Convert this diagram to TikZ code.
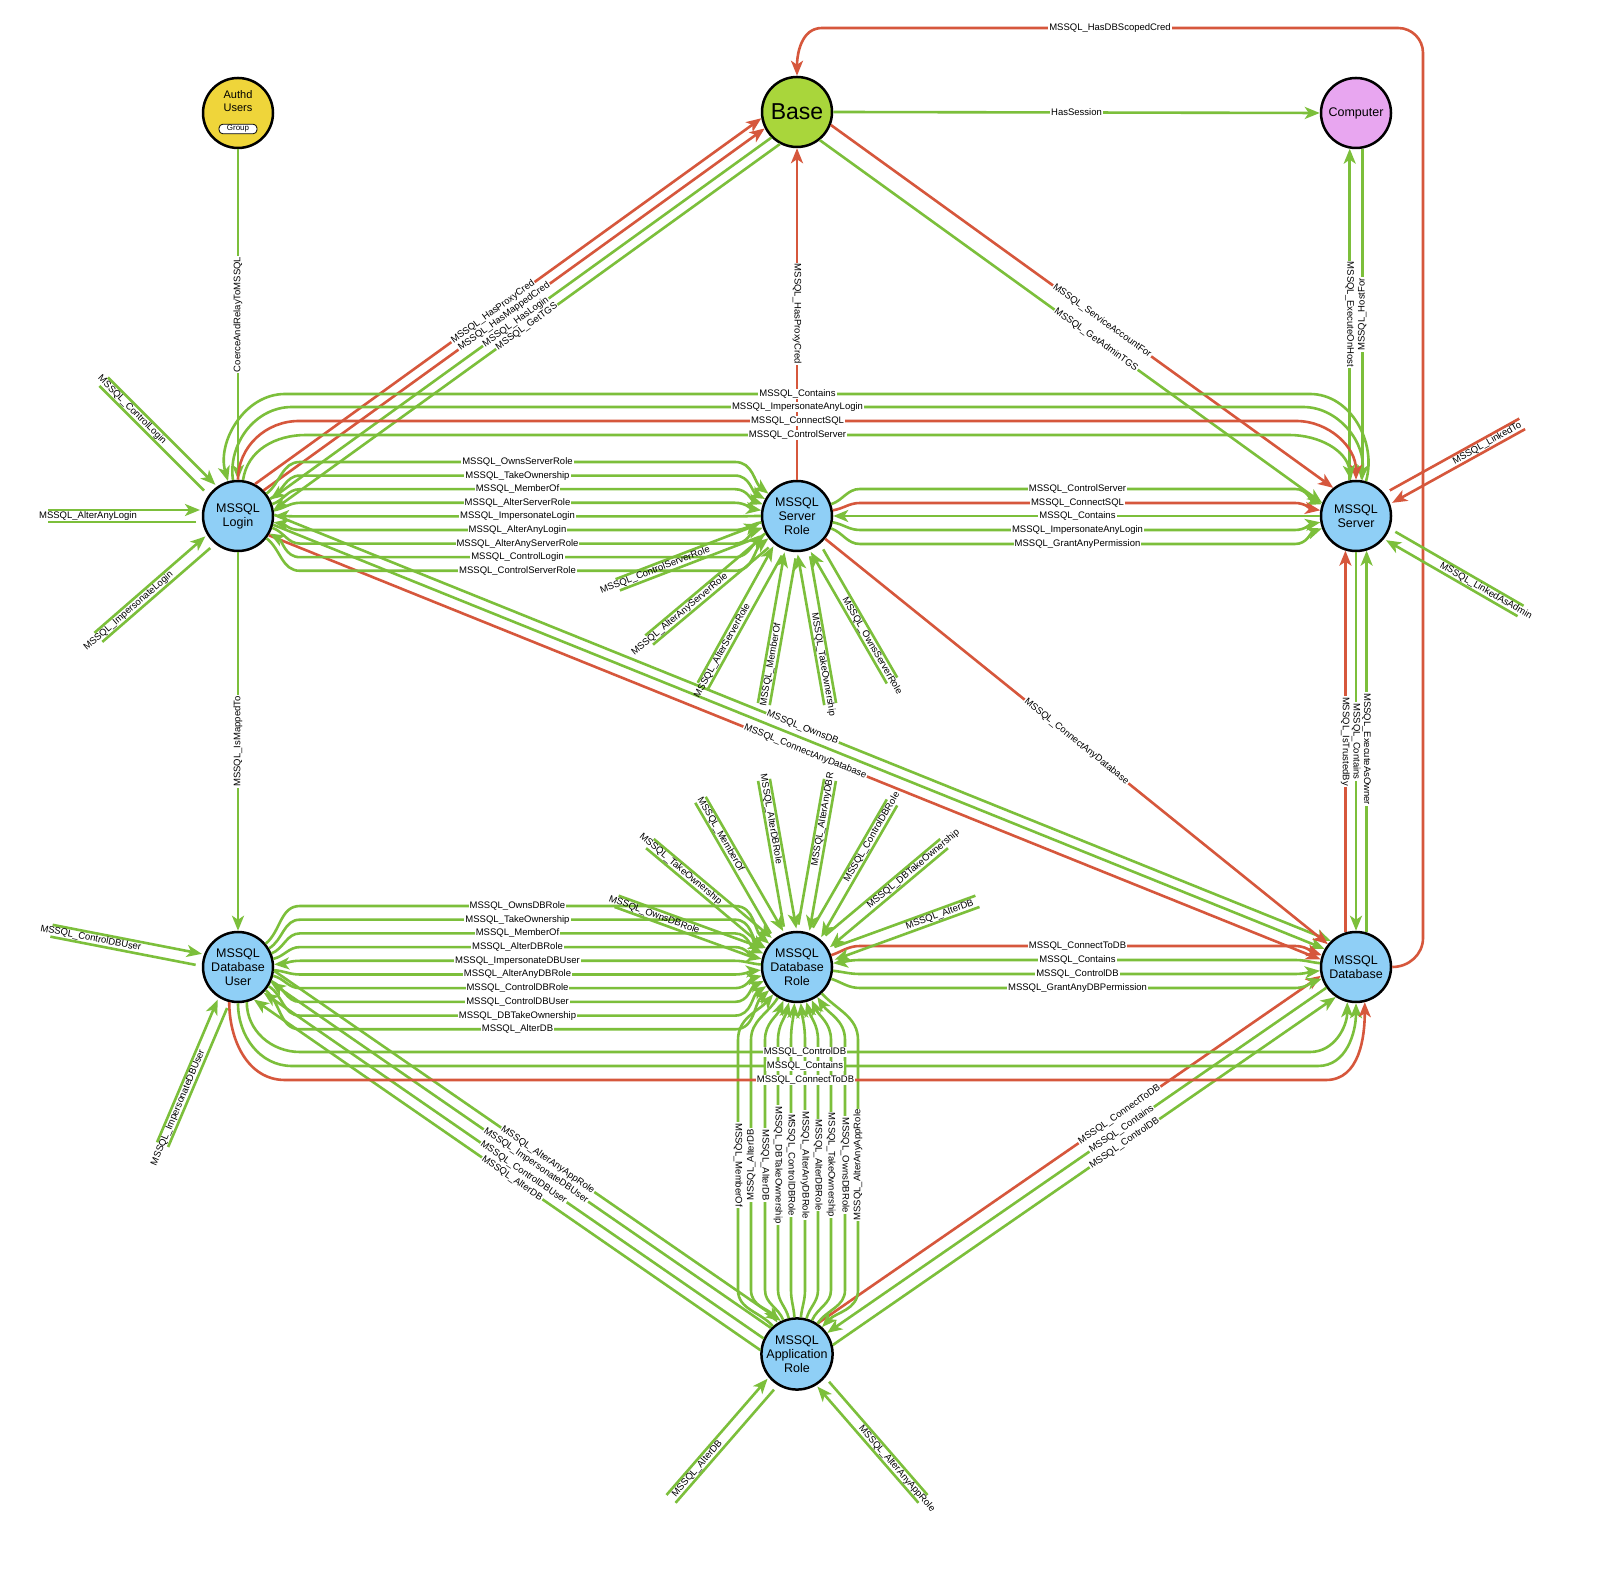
\documentclass[tikz,border=0pt]{standalone}
\usepackage{fontspec}
\setmainfont{Liberation Sans}
\usetikzlibrary{arrows.meta,calc}
\definecolor{grn}{HTML}{7CBF3B}
\definecolor{rd}{HTML}{D6573C}
\definecolor{nblue}{HTML}{8FCFF6}
\definecolor{yel}{HTML}{EFD53A}
\definecolor{bgrn}{HTML}{A9D63B}
\definecolor{pnk}{HTML}{E8A6F0}
\tikzset{
 g/.style={draw=grn,line width=2.6pt},
 r/.style={draw=rd,line width=2.6pt},
 ar/.style={-{Stealth[length=15pt,width=12pt,inset=4pt]}},
 ra/.style={{Stealth[length=15pt,width=12pt,inset=4pt]}-},
 lb/.style={font=\fontsize{9.5}{10}\selectfont,fill=white,inner sep=1pt},
 ls/.style={font=\fontsize{9.5}{10}\selectfont,inner sep=1pt},
 circ/.style={circle,draw=black,line width=2.5pt,minimum size=70pt,inner sep=0pt,align=center,font=\fontsize{12.5}{14}\selectfont,fill=nblue},
}
\newcommand\mybus[9]{\draw[#1] (#2.#3) to[out=#3,in=180] (#7,#6) -- node[lb]{#9} (#8,#6) to[out=0,in=#5] (#4.#5);}
\newcommand\myvbus[6]{\draw[#1] (app.#3) to[out=#3,in=270] (#2,293) -- node[lb,rotate=#6]{#5} (#2,543) to[out=90,in=#4] (dbr.#4);}
\newcommand\mystub[7]{%
 \draw[#4] ($(#1)+(#2:42)+(#2+90:6)$) -- ($(#1)+(#2:#3+40)+(#2+90:6)$);
 \draw[#4,ar] ($(#1)+(#2:#3+40)+(#2-90:6)$) -- ($(#1)+(#2:38)+(#2-90:6)$);
 \node[ls,rotate=#6] (#7) at ($(#1)+(#2:#3)$) {#5};}
\begin{document}
\begin{tikzpicture}[x=1pt,y=1pt]
\useasboundingbox[fill=white] (0,0) rectangle (1600,1583);
% nodes
\node[circ,fill=yel] (authd) at (238,1470) {};
\node[font=\fontsize{11}{12.5}\selectfont,align=center] (authdt) at (238,1482) {Authd\\Users};
\node[draw=black,fill=white,rounded corners=4pt,line width=0.8pt,inner sep=1.2pt,minimum width=38pt,font=\fontsize{8}{9}\selectfont] (grp) at (238,1454) {Group};
\node[circ,fill=bgrn,font=\fontsize{23}{26}\selectfont] (base) at (797,1471) {Base};
\node[circ,fill=pnk] (comp) at (1356,1470) {Computer};
\node[circ] (login) at (238,1067) {MSSQL\\Login};
\node[circ] (sr) at (797,1067) {MSSQL\\Server\\Role};
\node[circ] (srv) at (1356,1067) {MSSQL\\Server};
\node[circ] (dbu) at (238,616) {MSSQL\\Database\\User};
\node[circ] (dbr) at (797,616) {MSSQL\\Database\\Role};
\node[circ] (db) at (1356,616) {MSSQL\\Database};
\node[circ] (app) at (797,229) {MSSQL\\Application\\Role};

% simple edges
\draw[g,ar] (authd.270) -- node[lb,rotate=90]{CoerceAndRelayToMSSQL} (login.90);
\draw[g,ar] (base.0) -- node[lb]{HasSession} (comp.180);
\draw[r,ar] (db.0) to[out=0,in=270] (1423,645) -- (1423,1530) to[out=90,in=0] (1398,1555) -- node[lb]{MSSQL\_HasDBScopedCred} (822,1555) to[out=180,in=90] (base.90);
\draw[r,ar] (login.62) -- node[lb,sloped,pos=.47]{MSSQL\_HasProxyCred} (base.190);
\draw[r,ar] (login.45) -- node[lb,sloped,pos=.48]{MSSQL\_HasMappedCred} (base.207);
\draw[g,ra] (login.27) -- node[lb,sloped,pos=.49]{MSSQL\_HasLogin} (base.225);
\draw[g,ra] (login.10) -- node[lb,sloped,pos=.50]{MSSQL\_GetTGS} (base.242);
\draw[r,ar] (sr.90) -- node[lb,rotate=-90]{MSSQL\_HasProxyCred} (base.270);
\draw[r,ar] (base.-21) -- node[lb,sloped,pos=.54]{MSSQL\_ServiceAccountFor} (srv.129);
\draw[g,ar] (base.-51) -- node[lb,sloped,pos=.55]{MSSQL\_GetAdminTGS} (srv.159);
\draw[g,ar] (srv.100) -- node[lb,rotate=-90]{MSSQL\_ExecuteOnHost} (comp.260);
\draw[g,ar] (comp.280) -- node[lb,rotate=90]{MSSQL\_HostFor} (srv.80);
\draw[r,ar] (db.107) -- node[lb,rotate=-90]{MSSQL\_IsTrustedBy} (srv.253);
\draw[g,ar] (srv.270) -- node[lb,rotate=-90]{MSSQL\_Contains} (db.90);
\draw[g,ar] (db.73) -- node[lb,rotate=-90,pos=.48]{MSSQL\_ExecuteAsOwner} (srv.287);
\draw[g,ar] (login.270) -- node[lb,rotate=90]{MSSQL\_IsMappedTo} (dbu.90);
\draw[g,ar] (login.2) -- node[lb,sloped]{MSSQL\_OwnsDB} (db.134);
\draw[g,ar] (login.-14) -- (db.150);
\draw[r,ar] (login.-32) -- node[lb,sloped,pos=.51]{MSSQL\_ConnectAnyDatabase} (db.168);
\draw[r,ar] (sr.-39) -- node[lb,sloped]{MSSQL\_ConnectAnyDatabase} (db.141);
\draw[g,ar] (dbu.-6) -- node[lb,sloped,pos=.54]{MSSQL\_AlterAnyAppRole} (app.116);
\draw[g,ra] (dbu.-25) -- node[lb,sloped,pos=.53]{MSSQL\_ImpersonateDBUser} (app.135);
\draw[g,ra] (dbu.-45) -- node[lb,sloped,pos=.52]{MSSQL\_ControlDBUser} (app.155);
\draw[g,ra] (dbu.-64) -- node[lb,sloped,pos=.51]{MSSQL\_AlterDB} (app.174);
\draw[r,ar] (app.56) -- node[lb,sloped,pos=.60]{MSSQL\_ConnectToDB} (db.194);
\draw[g,ra] (app.35) -- node[lb,sloped,pos=.59]{MSSQL\_Contains} (db.215);
\draw[g,ar] (app.14) -- node[lb,sloped,pos=.58]{MSSQL\_ControlDB} (db.236);

% Login - Server top buses
\mybus{g,ra}{login}{106}{srv}{74}{1189}{285}{1310}{MSSQL\_Contains}
\mybus{g,ar}{login}{98}{srv}{82}{1176}{292}{1303}{MSSQL\_ImpersonateAnyLogin}
\mybus{r,ar}{login}{90}{srv}{90}{1162}{299}{1296}{MSSQL\_ConnectSQL}
\mybus{g,ar}{login}{82}{srv}{98}{1148}{306}{1289}{MSSQL\_ControlServer}
% Login - SR
\mybus{g,ar}{login}{38}{sr}{142}{1121}{300}{735}{MSSQL\_OwnsServerRole}
\mybus{g,ar}{login}{28}{sr}{152}{1107.4}{300}{735}{MSSQL\_TakeOwnership}
\mybus{g,ar}{login}{19}{sr}{161}{1093.8}{300}{735}{MSSQL\_MemberOf}
\mybus{g,ar}{login}{9}{sr}{171}{1080.2}{300}{735}{MSSQL\_AlterServerRole}
\mybus{g,ra}{login}{0}{sr}{180}{1066.6}{300}{735}{MSSQL\_ImpersonateLogin}
\mybus{g,ra}{login}{-10}{sr}{190}{1053}{300}{735}{MSSQL\_AlterAnyLogin}
\mybus{g,ar}{login}{-19}{sr}{199}{1039.4}{300}{735}{MSSQL\_AlterAnyServerRole}
\mybus{g,ra}{login}{-29}{sr}{209}{1025.8}{300}{735}{MSSQL\_ControlLogin}
\mybus{g,ar}{login}{-38}{sr}{218}{1012.2}{300}{735}{MSSQL\_ControlServerRole}
% SR - Server
\mybus{g,ar}{sr}{19}{srv}{161}{1094}{860}{1295}{MSSQL\_ControlServer}
\mybus{r,ar}{sr}{9}{srv}{171}{1080}{860}{1295}{MSSQL\_ConnectSQL}
\mybus{g,ra}{sr}{0}{srv}{180}{1067}{860}{1295}{MSSQL\_Contains}
\mybus{g,ar}{sr}{-10}{srv}{190}{1053}{860}{1295}{MSSQL\_ImpersonateAnyLogin}
\mybus{g,ar}{sr}{-20}{srv}{200}{1039}{860}{1295}{MSSQL\_GrantAnyPermission}
% DBU - DBR
\mybus{g,ar}{dbu}{40}{dbr}{140}{677}{300}{735}{MSSQL\_OwnsDBRole}
\mybus{g,ar}{dbu}{31}{dbr}{149}{663.3}{300}{735}{MSSQL\_TakeOwnership}
\mybus{g,ar}{dbu}{22}{dbr}{158}{649.6}{300}{735}{MSSQL\_MemberOf}
\mybus{g,ar}{dbu}{13}{dbr}{167}{635.9}{300}{735}{MSSQL\_AlterDBRole}
\mybus{g,ra}{dbu}{4}{dbr}{176}{622.2}{300}{735}{MSSQL\_ImpersonateDBUser}
\mybus{g,ar}{dbu}{-5}{dbr}{185}{608.5}{300}{735}{MSSQL\_AlterAnyDBRole}
\mybus{g,ar}{dbu}{-14}{dbr}{194}{594.8}{300}{735}{MSSQL\_ControlDBRole}
\mybus{g,ar}{dbu}{-23}{dbr}{203}{581.1}{300}{735}{MSSQL\_ControlDBUser}
\mybus{g,ar}{dbu}{-32}{dbr}{212}{567.4}{300}{735}{MSSQL\_DBTakeOwnership}
\mybus{g,ar}{dbu}{-40}{dbr}{220}{553.7}{300}{735}{MSSQL\_AlterDB}
% DBR - DB
\mybus{r,ar}{dbr}{19}{db}{161}{637}{860}{1295}{MSSQL\_ConnectToDB}
\mybus{g,ra}{dbr}{6}{db}{174}{623}{860}{1295}{MSSQL\_Contains}
\mybus{g,ar}{dbr}{-6}{db}{186}{609}{860}{1295}{MSSQL\_ControlDB}
\mybus{g,ar}{dbr}{-19}{db}{199}{595}{860}{1295}{MSSQL\_GrantAnyDBPermission}
% DBR - App verticals
\myvbus{g,ar}{738}{131}{229}{MSSQL\_MemberOf}{-90}
\myvbus{g,ra}{751}{122}{238}{MSSQL\_AlterDB}{90}
\myvbus{g,ar}{765}{112}{248}{MSSQL\_AlterDB}{-90}
\myvbus{g,ar}{778}{103}{257}{MSSQL\_DBTakeOwnership}{-90}
\myvbus{g,ar}{791}{94}{266}{MSSQL\_ControlDBRole}{-90}
\myvbus{g,ar}{805}{84}{276}{MSSQL\_AlterAnyDBRole}{-90}
\myvbus{g,ar}{818}{75}{285}{MSSQL\_AlterDBRole}{-90}
\myvbus{g,ar}{831}{66}{294}{MSSQL\_TakeOwnership}{-90}
\myvbus{g,ar}{845}{56}{304}{MSSQL\_OwnsDBRole}{-90}
\myvbus{g,ra}{858}{47}{313}{MSSQL\_AlterAnyAppRole}{90}
% DBU - DB bottom buses
\draw[g,ar] (dbu.284) to[out=270,in=180] (300,531) -- node[lb]{MSSQL\_ControlDB} (1310,531) to[out=0,in=270] (db.256);
\draw[g,ar] (dbu.270) to[out=270,in=180] (292,517) -- node[lb]{MSSQL\_Contains} (1318,517) to[out=0,in=270] (db.270);
\draw[r,ar] (dbu.256) to[out=270,in=180] (285,503) -- node[lb]{MSSQL\_ConnectToDB} (1326,503) to[out=0,in=270] (db.284);

% stubs (self edges)
\mystub{login}{135}{150}{g}{MSSQL\_ControlLogin}{-45}{s1}
\mystub{login}{180}{150}{g}{MSSQL\_AlterAnyLogin}{0}{s2}
\mystub{login}{221}{145}{g}{MSSQL\_ImpersonateLogin}{41}{s3}
\mystub{sr}{201}{152}{g}{MSSQL\_ControlServerRole}{21}{s4}
\mystub{sr}{220}{153}{g}{MSSQL\_AlterAnyServerRole}{40}{s5}
\mystub{sr}{241}{154}{g}{MSSQL\_AlterServerRole}{61}{s6}
\mystub{sr}{260}{151}{g}{MSSQL\_MemberOf}{80}{s7}
\mystub{sr}{280}{151}{g}{MSSQL\_TakeOwnership}{-80}{s8}
\mystub{sr}{300}{150}{g}{MSSQL\_OwnsServerRole}{-60}{s9}
\mystub{srv}{29}{150}{r}{MSSQL\_LinkedTo}{29}{s10}
\mystub{srv}{-30}{150}{g}{MSSQL\_LinkedAsAdmin}{-30}{s11}
\mystub{dbu}{169}{150}{g}{MSSQL\_ControlDBUser}{-11}{s12}
\mystub{dbu}{247}{153}{g}{MSSQL\_ImpersonateDBUser}{67}{s13}
\mystub{dbr}{160}{152}{g}{MSSQL\_OwnsDBRole}{-20}{s14}
\mystub{dbr}{140}{152}{g}{MSSQL\_TakeOwnership}{-40}{s15}
\mystub{dbr}{120}{153}{g}{MSSQL\_MemberOf}{-60}{s16}
\mystub{dbr}{100}{150}{g}{MSSQL\_AlterDBRole}{-80}{s17}
\mystub{dbr}{80}{150}{g}{MSSQL\_AlterAnyDBR}{80}{s18}
\mystub{dbr}{60}{150}{g}{MSSQL\_ControlDBRole}{60}{s19}
\mystub{dbr}{40}{152}{g}{MSSQL\_DBTakeOwnership}{40}{s20}
\mystub{dbr}{20}{152}{g}{MSSQL\_AlterDB}{20}{s21}
\mystub{app}{229}{152}{g}{MSSQL\_AlterDB}{49}{s22}
\mystub{app}{311}{152}{g}{MSSQL\_AlterAnyAppRole}{-49}{s23}
\end{tikzpicture}
\end{document}
